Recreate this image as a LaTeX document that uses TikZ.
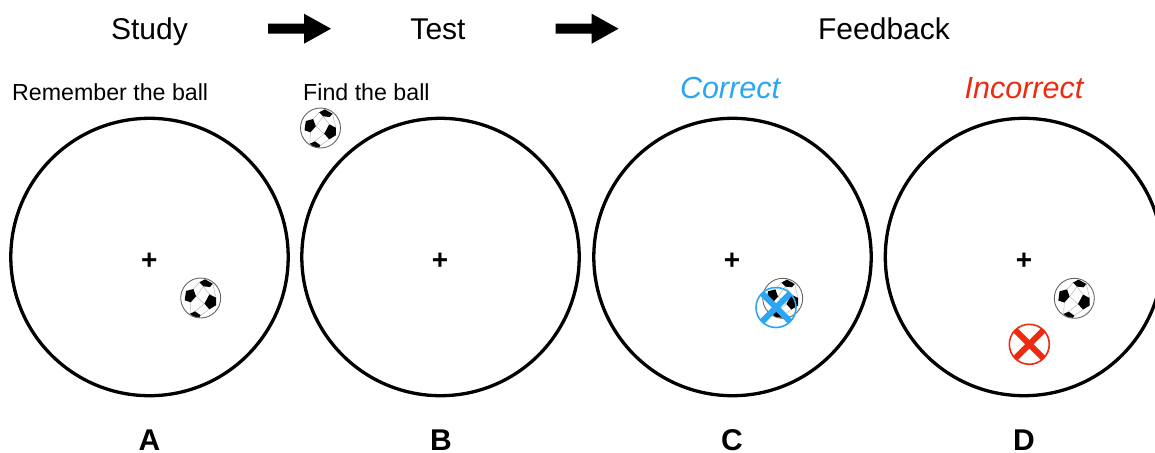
\documentclass[tikz,border=0pt]{standalone}
\usepackage{fontspec}
\setmainfont{Liberation Sans}
\definecolor{cblue}{HTML}{2BA6F5}
\definecolor{cred}{HTML}{EE2A10}
\tikzset{
  x=1pt,y=-1pt,
  trial/.style={draw=black,line width=3.3pt,circle,minimum size=277.4pt,inner sep=0pt},
  head/.style={font=\fontsize{30}{36}\selectfont,inner sep=0pt,anchor=base},
  hint/.style={font=\fontsize{23.2}{28}\selectfont,inner sep=0pt,anchor=base west},
  verdict/.style={font=\fontsize{30.5}{36}\selectfont\itshape,inner sep=0pt,anchor=base},
  letter/.style={font=\fontsize{30}{36}\selectfont\bfseries,inner sep=0pt,anchor=base},
  fix/.style={font=\fontsize{28}{30}\selectfont\bfseries,inner sep=0pt,anchor=base},
  flow/.style={fill=black,draw=none},
  seam/.style={draw=black!28,line width=.5pt},
  pics/ball/.style={code={
    \draw[seam] (-7.3,-9)--(-1.3,-15.7) (-4.7,-1.7)--(2.7,-11.7) (2.7,-11.7)--(8.7,-3.7) (-4.7,-1.7)--(3.7,5.7) (-10,4.3)--(-10.7,15.7) (3.7,5.7)--(-5.7,13.3) (8.7,11.3)--(0,17.3) (15.3,-.3)--(12,-14.3);
    \fill[black] (-14.7,-7)--(-7.3,-9)--(-4.7,-1.7)--(-10,4.3)--(-16,2.3)--cycle;
    \fill[black] (8.7,-3.7)--(15.3,-.3)--(15.3,7.3)--(8.7,11.3)--(3.7,5.7)--cycle;
    \fill[black] (-1.3,-15.7)--(4.3,-18.7)--(12,-14.3)--(9.3,-11)--(2.7,-11.7)--cycle;
    \fill[black] (-10.7,15.7)--(-5.7,13.3)--(0,17.3)--(-1.3,19.5)--(-7.3,18.5)--cycle;
    \draw[black!60,line width=.9pt] (0,0) circle[radius=20];
  }},
  pics/mark/.style={code={
    \draw[#1,line width=1.6pt] (0,0) circle[radius=20];
    \draw[#1,line width=6pt] (-14,-14)--(14,14) (-14,14)--(14,-14);
  }}
}
\begin{document}
\begin{tikzpicture}
\path[use as bounding box] (0,0) rectangle (1155,452);
\clip (0,0) rectangle (1155,452);
\node[head] (study) at (149.5,39.7) {Study};
\node[head] (test) at (438,39.7) {Test};
\node[head] (feedback) at (884,39.7) {Feedback};
\fill[flow] (268,23.7)--(304,23.7)--(304,13.7)--(331,28.7)--(304,43.7)--(304,33.7)--(268,33.7)--cycle;
\fill[flow] (555.7,23.7)--(591.7,23.7)--(591.7,13.7)--(618.5,28.7)--(591.7,43.7)--(591.7,33.7)--(555.7,33.7)--cycle;
\node[hint] (hinta) at (12,100) {Remember the ball};
\node[hint] (hintb) at (303,100) {Find the ball};
\node[verdict,text=cblue] (correct) at (730,98.5) {Correct};
\node[verdict,text=cred] (incorrect) at (1024,98.5) {Incorrect};
\node[trial] (ca) at (149.5,257) {};
\node[trial] (cb) at (440.5,257) {};
\node[trial] (cc) at (732.5,257) {};
\node[trial] (cd) at (1024,257) {};
\node[fix] (fa) at (149.3,269.5) {+};
\node[fix] (fb) at (440,269.5) {+};
\node[fix] (fc) at (732,269.5) {+};
\node[fix] (fd) at (1024,269.5) {+};
\pic at (200.7,298) {ball};
\pic at (320.5,128) {ball};
\pic at (782.7,298.3) {ball};
\pic at (1074.3,298.3) {ball};
\pic at (776,307.5) {mark=cblue};
\pic at (1029.3,344.3) {mark=cred};
\node[letter] (la) at (149.5,450) {A};
\node[letter] (lb) at (441,450) {B};
\node[letter] (lc) at (732,450) {C};
\node[letter] (ld) at (1024,450) {D};
\end{tikzpicture}
\end{document}
